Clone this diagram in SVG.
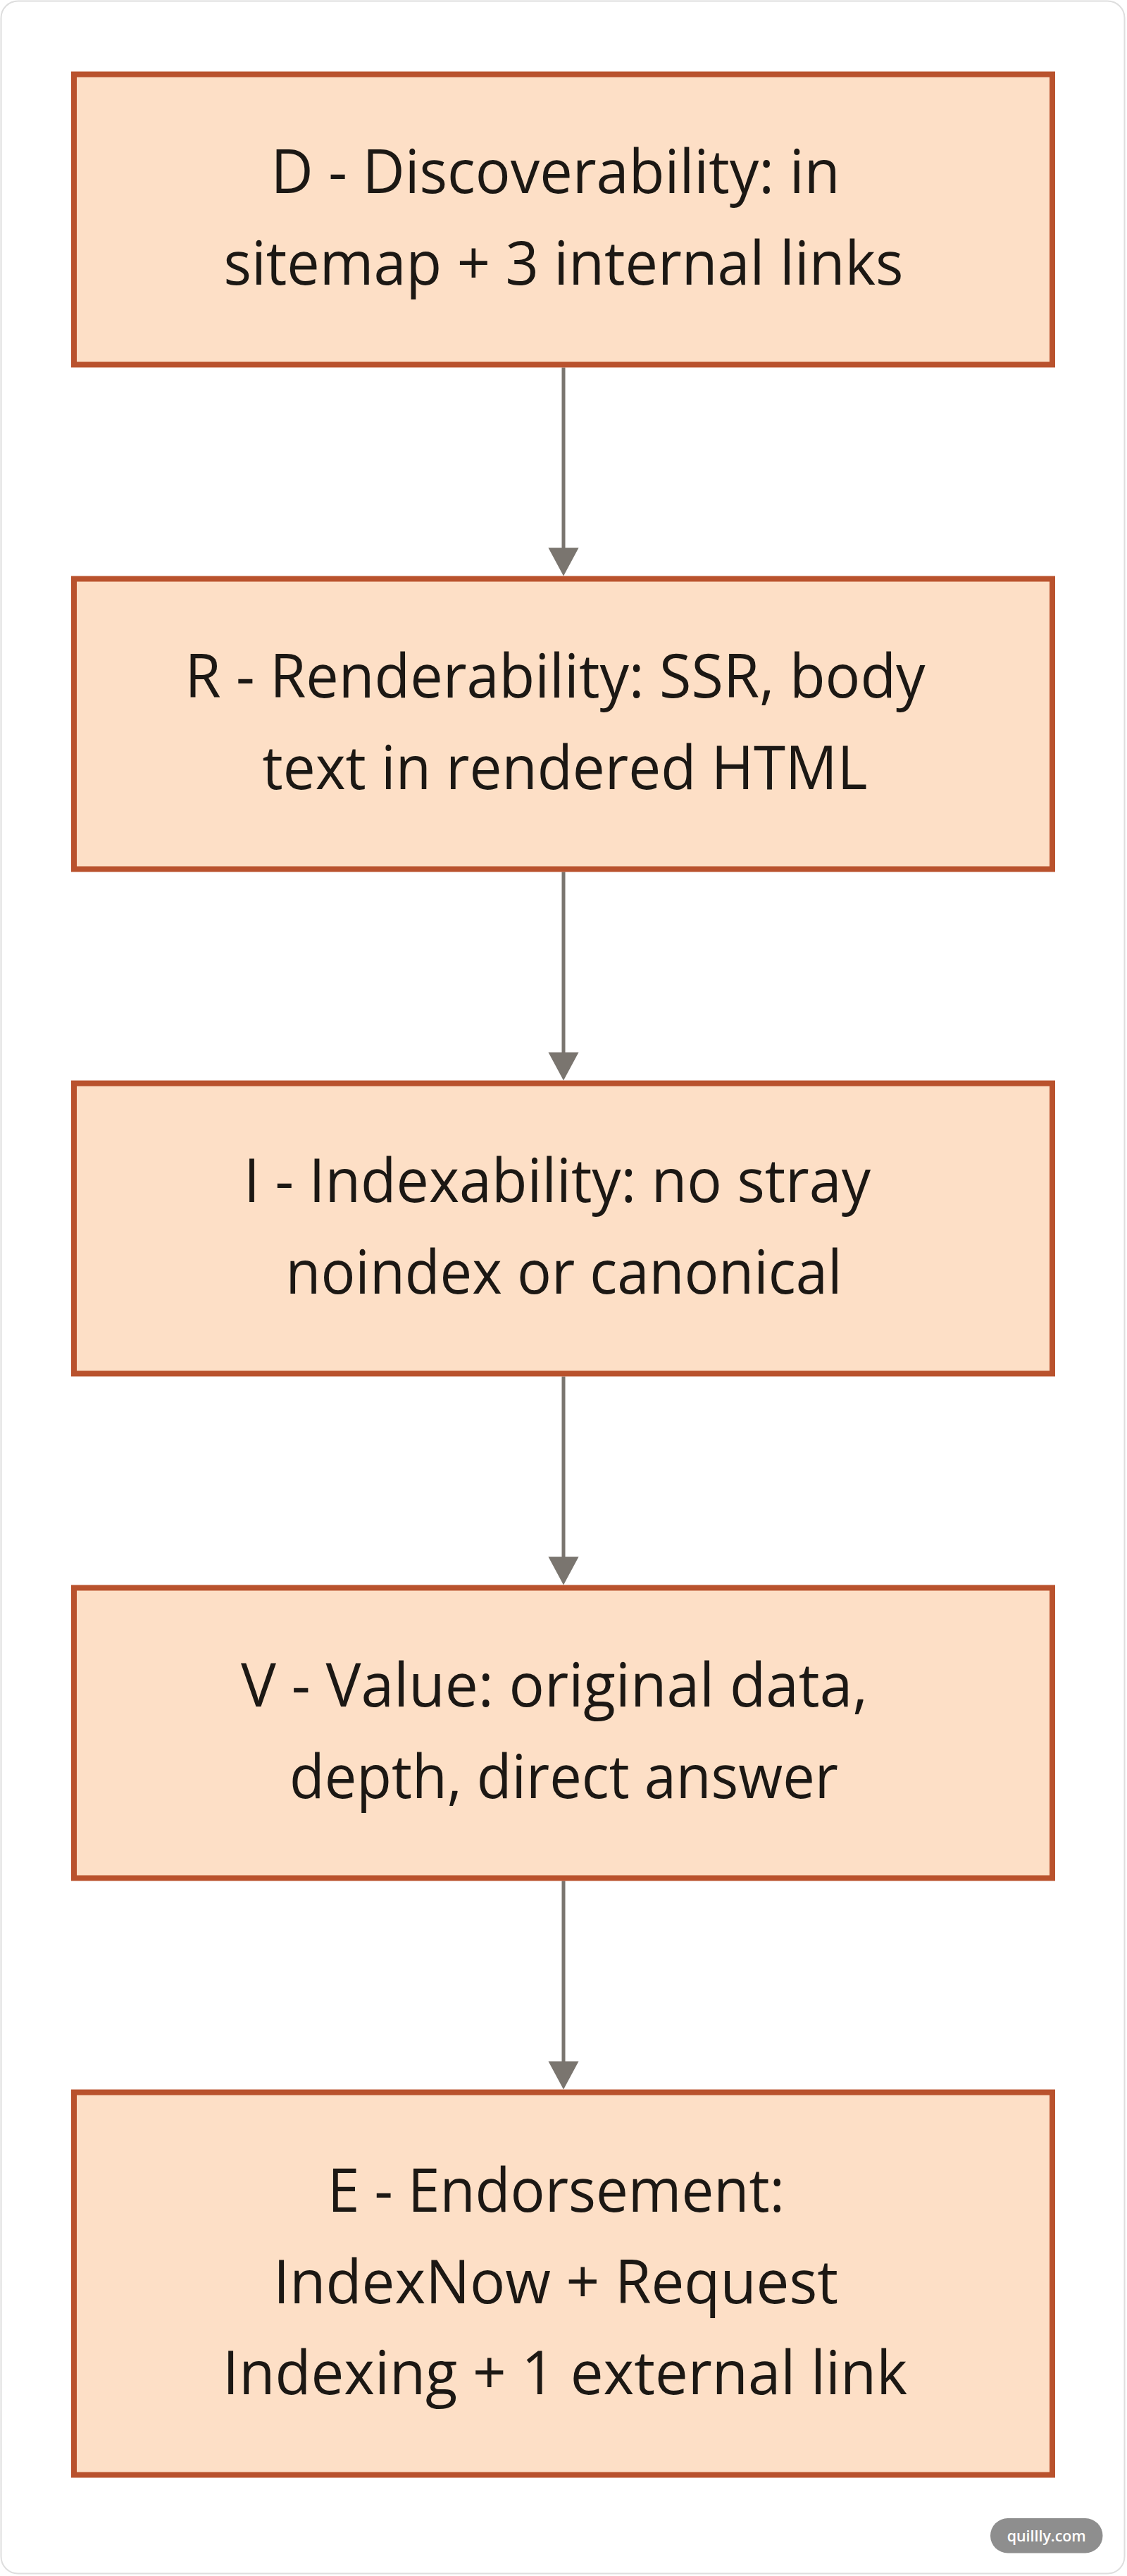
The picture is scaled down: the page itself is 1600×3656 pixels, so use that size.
<svg xmlns="http://www.w3.org/2000/svg" width="1600" height="3656" viewBox="0 0 1600 3656">
  <style>
    .node rect { fill: #fddfc6; stroke: #b9522d; stroke-width: 8; }
    .node text { font-family: "Open Sans", "Noto Sans", "Liberation Sans", sans-serif; font-size: 86px; fill: #1c1814; text-anchor: middle; }
    .edge line { stroke: #7a756f; stroke-width: 5; }
    .edge polygon { fill: #7a756f; }
    .badge text { font-family: "Open Sans", "Noto Sans", "Liberation Sans", sans-serif; font-size: 21px; font-weight: 600; fill: #ffffff; text-anchor: middle; }
  </style>
  <rect x="1.5" y="1.5" width="1595" height="3651" rx="24" ry="24" fill="#ffffff" stroke="#dedede" stroke-width="2"/>

  <g id="connectors" class="edge">
    <line x1="800" y1="521.5" x2="800" y2="779"/>
    <polygon points="778.5,777.5 821.5,777.5 800,817.5"/>
    <line x1="800" y1="1237.5" x2="800" y2="1495"/>
    <polygon points="778.5,1493.5 821.5,1493.5 800,1533.5"/>
    <line x1="800" y1="1953.5" x2="800" y2="2211"/>
    <polygon points="778.5,2209.5 821.5,2209.5 800,2249.5"/>
    <line x1="800" y1="2669.5" x2="800" y2="2927"/>
    <polygon points="778.5,2925.5 821.5,2925.5 800,2965.5"/>
  </g>

  <g id="node-D" class="node">
    <rect x="105" y="105.5" width="1389" height="412"/>
    <text x="788.5" y="273.5" textLength="808" lengthAdjust="spacingAndGlyphs">D - Discoverability: in</text>
    <text x="800" y="403.5" textLength="965" lengthAdjust="spacingAndGlyphs">sitemap + 3 internal links</text>
  </g>

  <g id="node-R" class="node">
    <rect x="105" y="821.5" width="1389" height="412"/>
    <text x="788" y="990" textLength="1051" lengthAdjust="spacingAndGlyphs">R - Renderability: SSR, body</text>
    <text x="802" y="1120" textLength="859" lengthAdjust="spacingAndGlyphs">text in rendered HTML</text>
  </g>

  <g id="node-I" class="node">
    <rect x="105" y="1537.5" width="1389" height="412"/>
    <text x="791" y="1706" textLength="890" lengthAdjust="spacingAndGlyphs">I - Indexability: no stray</text>
    <text x="800.5" y="1835.5" textLength="790" lengthAdjust="spacingAndGlyphs">noindex or canonical</text>
  </g>

  <g id="node-V" class="node">
    <rect x="105" y="2253.5" width="1389" height="412"/>
    <text x="787" y="2421.5" textLength="890" lengthAdjust="spacingAndGlyphs">V - Value: original data,</text>
    <text x="800.5" y="2552" textLength="779" lengthAdjust="spacingAndGlyphs">depth, direct answer</text>
  </g>

  <g id="node-E" class="node">
    <rect x="105" y="2969.5" width="1389" height="543"/>
    <text x="789.5" y="3138.5" textLength="649" lengthAdjust="spacingAndGlyphs">E - Endorsement:</text>
    <text x="789" y="3268.5" textLength="802" lengthAdjust="spacingAndGlyphs">IndexNow + Request</text>
    <text x="802" y="3398" textLength="972" lengthAdjust="spacingAndGlyphs">Indexing + 1 external link</text>
  </g>

  <g id="badge" class="badge">
    <rect x="1406" y="3574" width="159.5" height="49.5" rx="24.75" ry="24.75" fill="#8e8e8e"/>
    <text x="1485.7" y="3607" textLength="112" lengthAdjust="spacingAndGlyphs">quillly.com</text>
  </g>
</svg>
